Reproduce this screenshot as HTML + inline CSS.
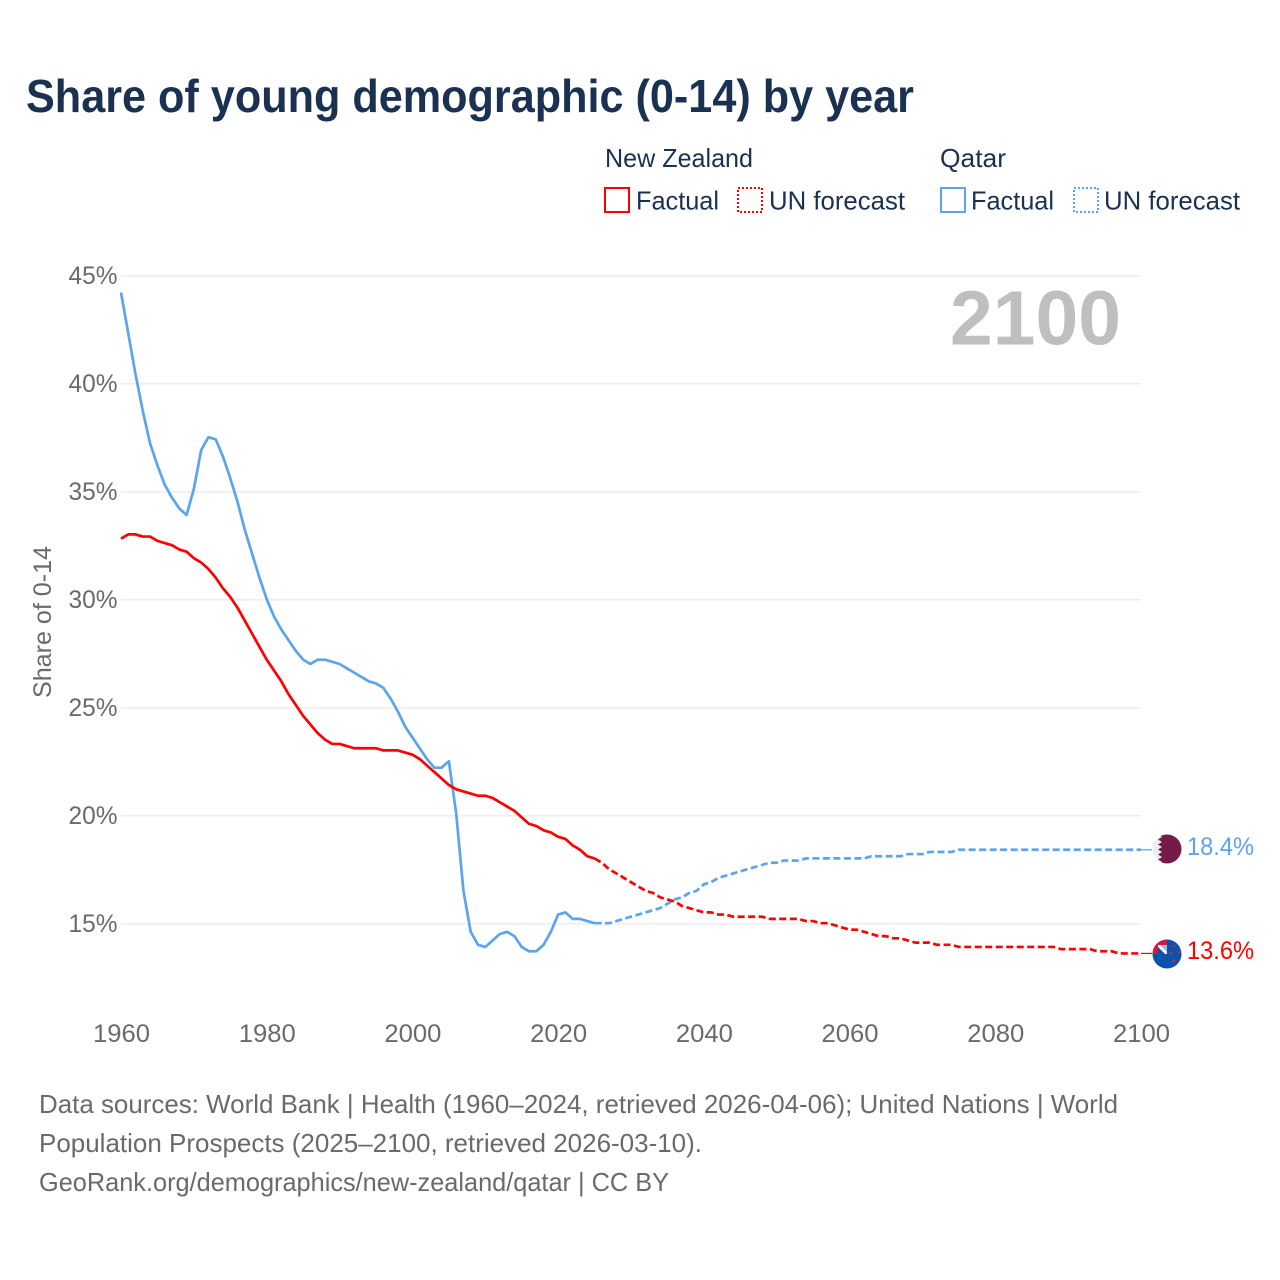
<!DOCTYPE html>
<html>
<head>
<meta charset="utf-8">
<title>Share of young demographic (0-14) by year</title>
<style>
html,body{margin:0;padding:0;background:#fff;width:1280px;height:1280px;overflow:hidden}
svg{display:block}
text{font-family:"Liberation Sans",sans-serif}
</style>
</head>
<body>
<svg id="chart" width="1280" height="1280" viewBox="0 0 1280 1280" xmlns="http://www.w3.org/2000/svg">
<defs>
<clipPath id="qa-clip"><circle cx="1167" cy="849" r="14.5"/></clipPath>
<clipPath id="nz-clip"><circle cx="1167" cy="954" r="14.5"/></clipPath>
</defs>
<rect width="1280" height="1280" fill="#fff"/>
<text x="26" y="112" font-size="46" font-weight="700" fill="#1a3152" textLength="888" lengthAdjust="spacingAndGlyphs">Share of young demographic (0-14) by year</text>

<g font-size="26" fill="#1a3152">
<text x="605" y="167" textLength="148" lengthAdjust="spacingAndGlyphs">New Zealand</text>
<text x="940" y="167" textLength="66" lengthAdjust="spacingAndGlyphs">Qatar</text>
<rect x="605" y="188" width="24" height="24" fill="none" stroke="#ff0000" stroke-width="2"/>
<text x="636" y="209.5" textLength="83" lengthAdjust="spacingAndGlyphs">Factual</text>
<rect x="738" y="188" width="24" height="24" fill="none" stroke="#ff0000" stroke-width="2" stroke-dasharray="2 2"/>
<text x="769" y="209.5" textLength="136" lengthAdjust="spacingAndGlyphs">UN forecast</text>
<rect x="941" y="188" width="24" height="24" fill="none" stroke="#5ba4ee" stroke-width="2"/>
<text x="971" y="209.5" textLength="83" lengthAdjust="spacingAndGlyphs">Factual</text>
<rect x="1074" y="188" width="24" height="24" fill="none" stroke="#5ba4ee" stroke-width="2" stroke-dasharray="2 2"/>
<text x="1104" y="209.5" textLength="136" lengthAdjust="spacingAndGlyphs">UN forecast</text>
</g>

<g id="grid"></g>
<g id="yticks" font-size="25" fill="#6a6a6a"></g>
<g id="xticks" font-size="25" fill="#6a6a6a"></g>
<text transform="translate(51,622) rotate(-90)" text-anchor="middle" font-size="25" fill="#6a6a6a" textLength="152" lengthAdjust="spacingAndGlyphs">Share of 0-14</text>
<text x="950" y="344.5" font-size="77" font-weight="700" fill="#bfbfbf" textLength="171" lengthAdjust="spacingAndGlyphs">2100</text>
<g id="series"></g>

<g clip-path="url(#qa-clip)">
<rect x="1150" y="832" width="34" height="34" fill="#eeeeee"/>
<path d="M1162 832H1184V866H1162L1158 864.5 1162 862 1158 859.5 1162 857 1158 854.5 1162 852 1158 849.5 1162 847 1158 844.5 1162 842 1158 839.5 1162 837 1158 834.5Z" fill="#741b47"/>
</g>
<g clip-path="url(#nz-clip)">
<rect x="1150" y="937" width="34" height="34" fill="#0a52b0"/>
<rect x="1150" y="937" width="17" height="17" fill="#d9163c"/>
<rect x="1158" y="945" width="9" height="9" fill="#ffffff"/>
<path d="M1158 954V947L1165 954Z" fill="#0a52b0"/>
<path d="M1160 945H1167V952Z" fill="#9fb6da"/>
<circle cx="1174" cy="946" r="1.3" fill="#e8173a"/>
<circle cx="1179" cy="952" r="1.3" fill="#e8173a"/>
<circle cx="1171" cy="953" r="1.3" fill="#e8173a"/>
<circle cx="1174" cy="961" r="1.5" fill="#e8173a"/>
</g>

<text id="label-qa" x="1187" y="855" font-size="25" fill="#5ba4ee" textLength="67" lengthAdjust="spacingAndGlyphs"></text>
<text id="label-nz" x="1187" y="959" font-size="25" fill="#ff0000" textLength="67" lengthAdjust="spacingAndGlyphs"></text>

<g font-size="26" fill="#6a6a6a">
<text x="39" y="1113" textLength="1079" lengthAdjust="spacingAndGlyphs">Data sources: World Bank | Health (1960–2024, retrieved 2026-04-06); United Nations | World</text>
<text x="39" y="1152" textLength="663" lengthAdjust="spacingAndGlyphs">Population Prospects (2025–2100, retrieved 2026-03-10).</text>
<text x="39" y="1191" textLength="630" lengthAdjust="spacingAndGlyphs">GeoRank.org/demographics/new-zealand/qatar | CC BY</text>
</g>
</svg>
<script>
const yTickValues = [15, 20, 25, 30, 35, 40, 45];
const xTickYears = [1960, 1980, 2000, 2020, 2040, 2060, 2080, 2100];
const factualStartYear = 1960;
const forecastStartYear = 2025;
const nzFactual = [32.8,33.0,33.0,32.9,32.9,32.7,32.6,32.5,32.3,32.2,31.9,31.7,31.4,31.0,30.5,30.1,29.6,29.0,28.4,27.8,27.2,26.7,26.2,25.6,25.1,24.6,24.2,23.8,23.5,23.3,23.3,23.2,23.1,23.1,23.1,23.1,23.0,23.0,23.0,22.9,22.8,22.6,22.3,22.0,21.7,21.4,21.2,21.1,21.0,20.9,20.9,20.8,20.6,20.4,20.2,19.9,19.6,19.5,19.3,19.2,19.0,18.9,18.6,18.4,18.1,18.0];
const nzForecast = [18.0,17.8,17.5,17.3,17.1,16.9,16.7,16.5,16.4,16.2,16.1,16.0,15.8,15.7,15.6,15.5,15.5,15.4,15.4,15.3,15.3,15.3,15.3,15.3,15.2,15.2,15.2,15.2,15.2,15.1,15.1,15.0,15.0,14.9,14.8,14.7,14.7,14.6,14.5,14.4,14.4,14.3,14.3,14.2,14.1,14.1,14.1,14.0,14.0,14.0,13.9,13.9,13.9,13.9,13.9,13.9,13.9,13.9,13.9,13.9,13.9,13.9,13.9,13.9,13.8,13.8,13.8,13.8,13.8,13.7,13.7,13.7,13.6,13.6,13.6,13.6];
const qaFactual = [44.2,42.3,40.4,38.7,37.2,36.2,35.3,34.7,34.2,33.9,35.1,36.9,37.5,37.4,36.6,35.6,34.5,33.2,32.1,31.0,30.0,29.2,28.6,28.1,27.6,27.2,27.0,27.2,27.2,27.1,27.0,26.8,26.6,26.4,26.2,26.1,25.9,25.4,24.8,24.1,23.6,23.1,22.6,22.2,22.2,22.5,20.1,16.5,14.6,14.0,13.9,14.2,14.5,14.6,14.4,13.9,13.7,13.7,14.0,14.6,15.4,15.5,15.2,15.2,15.1,15.0];
const qaForecast = [15.0,15.0,15.0,15.1,15.2,15.3,15.4,15.5,15.6,15.7,15.9,16.1,16.2,16.4,16.5,16.8,16.9,17.1,17.2,17.3,17.4,17.5,17.6,17.7,17.8,17.8,17.9,17.9,17.9,18.0,18.0,18.0,18.0,18.0,18.0,18.0,18.0,18.0,18.1,18.1,18.1,18.1,18.1,18.2,18.2,18.2,18.3,18.3,18.3,18.3,18.4,18.4,18.4,18.4,18.4,18.4,18.4,18.4,18.4,18.4,18.4,18.4,18.4,18.4,18.4,18.4,18.4,18.4,18.4,18.4,18.4,18.4,18.4,18.4,18.4,18.4];

const NS = 'http://www.w3.org/2000/svg';
const xAt = y => 121 + (y - 1960) * (1141 - 121) / 140;
const yAt = v => 923.5 - (v - 15) * 21.6;
const make = tag => document.createElementNS(NS, tag);
const grid = document.getElementById('grid');
const yticks = document.getElementById('yticks');
const xticks = document.getElementById('xticks');
const series = document.getElementById('series');

yTickValues.forEach(v => {
  const l = make('line');
  
  
  l.setAttribute('x1', 121); l.setAttribute('x2', 1141);
  l.setAttribute('y1', yAt(v) + 0.2); l.setAttribute('y2', yAt(v) + 0.2);
  l.setAttribute('stroke', '#eeeeee'); l.setAttribute('stroke-width', 1.6);
  grid.appendChild(l);
  const t = make('text');
  
  
  t.setAttribute('x', 68.5); t.setAttribute('y', yAt(v) + 8.5);
  t.setAttribute('textLength', 49); t.setAttribute('lengthAdjust', 'spacingAndGlyphs');
  t.textContent = v + '%';
  yticks.appendChild(t);
});

xTickYears.forEach(y => {
  const t = make('text');
  
  
  t.setAttribute('x', xAt(y) - 28); t.setAttribute('y', 1042);
  t.setAttribute('textLength', 57); t.setAttribute('lengthAdjust', 'spacingAndGlyphs');
  t.textContent = y;
  xticks.appendChild(t);
});

function drawLine(values, startYear, color, dashed, name) {
  const p = make('polyline');
  
  
  p.setAttribute('points', values.map((v, i) => xAt(startYear + i) + ',' + (yAt(v) - 0.3)).join(' '));
  p.setAttribute('fill', 'none');
  p.setAttribute('stroke', color);
  p.setAttribute('stroke-width', 2.7);
  p.setAttribute('stroke-linejoin', 'round');
  if (dashed) p.setAttribute('stroke-dasharray', '7 3.5');
  series.appendChild(p);
}
function drawConnector(value, color, name) {
  const c = make('line');
  
  
  c.setAttribute('x1', xAt(2100)); c.setAttribute('x2', 1152);
  c.setAttribute('y1', yAt(value) - 0.3); c.setAttribute('y2', yAt(value) - 0.3);
  c.setAttribute('stroke', color); c.setAttribute('stroke-width', 1.2);
  series.appendChild(c);
}
drawLine(qaFactual, factualStartYear, '#5ba4ee', false, 'qatar-factual-line');
drawLine(qaForecast, forecastStartYear, '#5ba4ee', true, 'qatar-forecast-line');
drawLine(nzFactual, factualStartYear, '#ff0000', false, 'new-zealand-factual-line');
drawLine(nzForecast, forecastStartYear, '#ff0000', true, 'new-zealand-forecast-line');
drawConnector(qaForecast[qaForecast.length - 1], '#5ba4ee', 'qatar-end-connector');
drawConnector(nzForecast[nzForecast.length - 1], '#ff0000', 'new-zealand-end-connector');
document.getElementById('label-qa').textContent = qaForecast[qaForecast.length - 1].toFixed(1) + '%';
document.getElementById('label-nz').textContent = nzForecast[nzForecast.length - 1].toFixed(1) + '%';
</script>
</body>
</html>
